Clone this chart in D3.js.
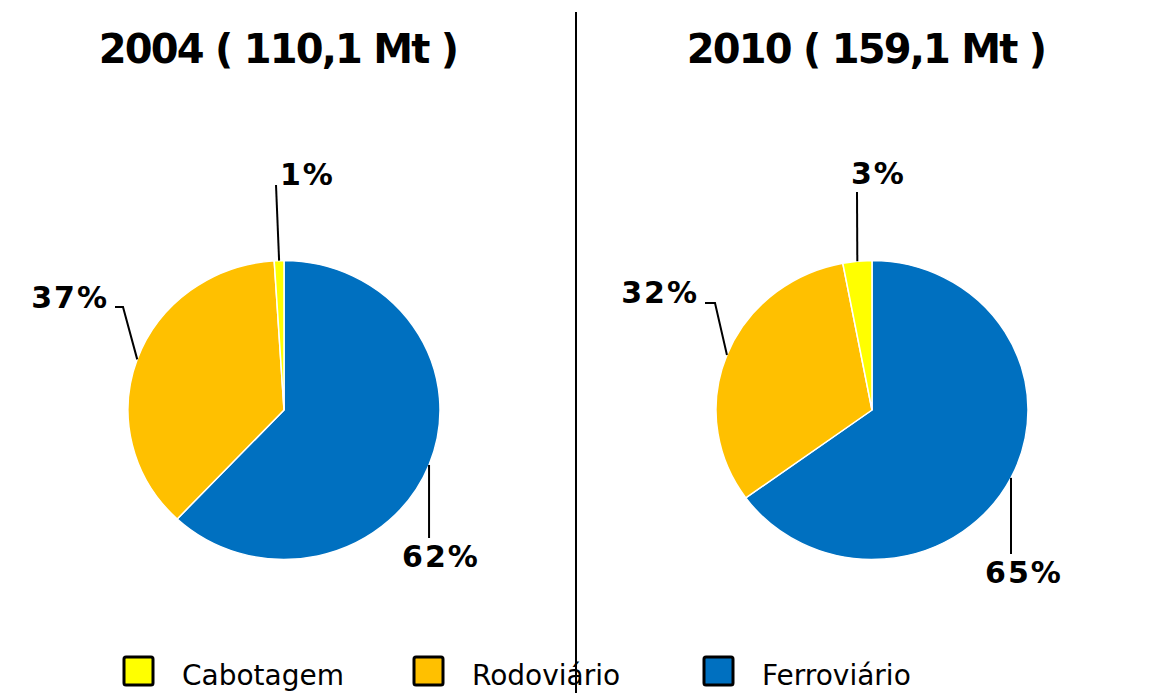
<!DOCTYPE html>
<html>
<head>
<meta charset="utf-8">
<script src="https://cdn.jsdelivr.net/npm/d3@7/dist/d3.min.js"></script>
<style>
  body { margin: 0; background: #fff; }
  svg { display: block; }
</style>
</head>
<body>
<svg id="chart" width="1155" height="693"></svg>
<script>
// data
var categories = ["Ferroviário", "Rodoviário", "Cabotagem"];
var legendOrder = ["Cabotagem", "Rodoviário", "Ferroviário"];
var years = ["2004", "2010"];
var totals = ["110,1", "159,1"];
var shares2004 = [62, 37, 1];
var shares2010 = [65, 32, 3];

var colors = ["#0070C0", "#FFC000", "#FFFF00"];

// layout of each pie and its label leaders (offsets from centre)
var pies = [
    { cx: 284, cy: 410, values: shares2004,
      leaders: [
        { pts: [[0, 128]], text: [157, 157], anchor: "middle" },
        { pts: [[-161, -103], [-169, -103]], text: [-175, -102], anchor: "end" },
        { pts: [[-8, -225]], text: [-4, -225], anchor: "start" }
      ] },
    { cx: 872, cy: 410, values: shares2010,
      leaders: [
        { pts: [[0, 144]], text: [152, 173], anchor: "middle" },
        { pts: [[-157, -107], [-167, -107]], text: [-173, -107], anchor: "end" },
        { pts: [[-15, -218]], text: [-21, -226], anchor: "start" }
      ] }
];

var svg = d3.select("#chart"),
    radius = 156,
    ky = 0.958;

var color = d3.scaleOrdinal().domain(categories).range(colors);

var pie = d3.pie().sort(null).value(d => d.value);
var arc = d3.arc().innerRadius(0).outerRadius(radius);

// divider
svg.append("line")
    .attr("x1", 576).attr("x2", 576)
    .attr("y1", 12).attr("y2", 693)
    .attr("stroke", "#000").attr("stroke-width", 2);

pies.forEach(function (p, pi) {
    let data = categories.map((c, i) => ({ name: c, value: p.values[i] }));
    let arcs = pie(data);

    svg.append("text")
        .attr("x", p.cx - 6)
        .attr("y", 63)
        .attr("text-anchor", "middle")
        .style("font-family", "DejaVu Sans, Verdana, sans-serif")
        .style("font-weight", "bold")
        .style("font-size", "40px")
        .style("letter-spacing", "-1.8px")
        .text(years[pi] + " ( " + totals[pi] + " Mt )");

    let g = svg.append("g")
        .attr("transform", "translate(" + p.cx + "," + p.cy + ") scale(1," + ky + ")");

    g.selectAll("path")
        .data(arcs)
        .enter().append("path")
        .attr("d", arc)
        .attr("fill", d => color(d.data.name))
        .attr("stroke", "#fff")
        .attr("stroke-width", 1.5);

    arcs.forEach(function (a, i) {
        let mid = (a.startAngle + a.endAngle) / 2,
            sx = radius * Math.sin(mid),
            sy = -radius * Math.cos(mid) * ky,
            lay = p.leaders[i];
        let pts = [[sx, sy]];
        lay.pts.forEach(q => {
            // the bottom leader drops straight down
            pts.push([lay.pts.length === 1 && i === 0 ? sx : q[0], q[1]]);
        });
        svg.append("path")
            .attr("d", d3.line()(pts.map(q => [p.cx + q[0], p.cy + q[1]])))
            .attr("fill", "none")
            .attr("stroke", "#000")
            .attr("stroke-width", 2);

        svg.append("text")
            .attr("x", p.cx + lay.text[0])
            .attr("y", p.cy + lay.text[1])
            .attr("text-anchor", lay.anchor)
            .style("font-family", "DejaVu Sans, Verdana, sans-serif")
            .style("font-weight", "bold")
            .style("font-size", "30px")
            .style("letter-spacing", "2px")
            .text(a.data.value + "%");
    });
});

// legend
var legend = svg.selectAll("g.legend")
    .data(legendOrder)
    .enter().append("g")
    .attr("class", "legend")
    .attr("transform", (d, i) => "translate(" + (124 + i * 290) + ",656)");

legend.append("rect")
    .attr("x", 0).attr("y", 1)
    .attr("width", 29).attr("height", 28)
    .attr("rx", 2)
    .attr("fill", d => color(d))
    .attr("stroke", "#000")
    .attr("stroke-width", 3);

legend.append("text")
    .attr("x", 58)
    .attr("y", 29)
    .style("font-family", "DejaVu Sans, Verdana, sans-serif")
    .style("font-size", "28px")
    .text(d => d);
</script>
</body>
</html>
